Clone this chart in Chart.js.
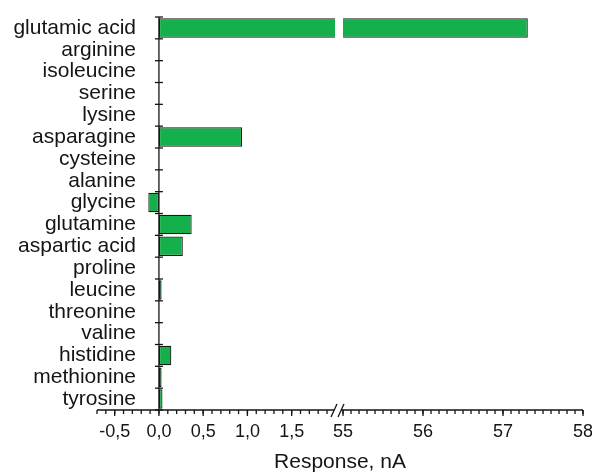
<!DOCTYPE html>
<html>
<head>
<meta charset="utf-8">
<script src="https://cdn.jsdelivr.net/npm/chart.js@4.4.1/dist/chart.umd.min.js"></script>
<style>
html,body{margin:0;padding:0;background:#ffffff;}
canvas{display:block;}
</style>
</head>
<body>
<canvas id="c" width="592" height="473"></canvas>
<script>
// ---- data ----
const categories = ['glutamic acid','arginine','isoleucine','serine','lysine','asparagine','cysteine','alanine','glycine','glutamine','aspartic acid','proline','leucine','threonine','valine','histidine','methionine','tyrosine'];
const responses = [57.31, 0, 0, 0, 0, 0.94, 0, 0, -0.12, 0.37, 0.27, 0, 0.03, 0, 0, 0.14, 0.03, 0.04];
const xTickValues = [-0.5, 0, 0.5, 1, 1.5, 55, 56, 57, 58];
const xTickLabels = ['-0,5','0,0','0,5','1,0','1,5','55','56','57','58'];
const lowSegment = [-0.7, 1.99];
const highSegment = [55, 58];
const minorStep = 0.1;
const axisTitle = 'Response, nA';

// ---- layout of the broken axis (fractions of the plot width) ----
const LOW_FRAC = 238 / 486;
const HIGH_START = 246 / 486;
const INK = '#151515';
const FONT = 'Liberation Sans, Arial, sans-serif';

class BrokenLinearScale extends Chart.LinearScale {
  determineDataLimits() { this.min = lowSegment[0]; this.max = highSegment[1]; }
  buildTicks() { return xTickValues.map(v => ({ value: v })); }
  getPixelForValue(v) {
    if (v === null || v === undefined || isNaN(v)) return NaN;
    const mid = (lowSegment[1] + highSegment[0]) / 2;
    let dec;
    if (v <= mid) dec = LOW_FRAC * (v - lowSegment[0]) / (lowSegment[1] - lowSegment[0]);
    else dec = HIGH_START + (1 - HIGH_START) * (v - highSegment[0]) / (highSegment[1] - highSegment[0]);
    return this.getPixelForDecimal(dec);
  }
  getValueForPixel(p) {
    const dec = this.getDecimalForPixel(p);
    if (dec <= (LOW_FRAC + HIGH_START) / 2) return lowSegment[0] + dec / LOW_FRAC * (lowSegment[1] - lowSegment[0]);
    return highSegment[0] + (dec - HIGH_START) / (1 - HIGH_START) * (highSegment[1] - highSegment[0]);
  }
}
BrokenLinearScale.id = 'brokenLinear';
BrokenLinearScale.defaults = Chart.LinearScale.defaults;
Chart.register(BrokenLinearScale);

// category scale whose labels may extend into the plot area (no label clipping)
class OpenCategoryScale extends Chart.CategoryScale {
  _computeLabelArea() { return undefined; }
}
OpenCategoryScale.id = 'openCategory';
OpenCategoryScale.defaults = Chart.CategoryScale.defaults;
Chart.register(OpenCategoryScale);

const brokenAxisPlugin = {
  id: 'brokenAxis',
  afterDatasetsDraw(chart) {
    const { ctx, chartArea, scales: { x } } = chart;
    const g0 = x.getPixelForValue(lowSegment[1]);
    const g1 = x.getPixelForValue(highSegment[0]);
    ctx.save();
    ctx.fillStyle = '#ffffff';
    ctx.fillRect(g0, chartArea.top - 2, g1 - g0, chartArea.bottom - chartArea.top);
    ctx.restore();
  },
  afterDraw(chart) {
    const { ctx, chartArea, scales: { x, y } } = chart;
    const top = chartArea.top, bottom = chartArea.bottom;
    ctx.save();
    ctx.strokeStyle = INK;
    ctx.lineWidth = 1.3;
    ctx.lineCap = 'butt';
    // vertical axis at value 0
    const x0 = x.getPixelForValue(0);
    ctx.beginPath();
    ctx.moveTo(x0, top);
    ctx.lineTo(x0, bottom);
    ctx.stroke();
    // category boundary ticks (crossing the axis)
    for (let i = 0; i <= categories.length; i++) {
      const py = y.getPixelForValue(i - 0.5);
      ctx.beginPath();
      ctx.moveTo(x0 - 4, py);
      ctx.lineTo(x0 + 4, py);
      ctx.stroke();
    }
    // horizontal axis in two pieces
    const gL = x.getPixelForValue(lowSegment[1]) - 1;
    const gR = x.getPixelForValue(highSegment[0]) - 2;
    ctx.beginPath();
    ctx.moveTo(chartArea.left, bottom);
    ctx.lineTo(gL, bottom);
    ctx.moveTo(gR, bottom);
    ctx.lineTo(chartArea.right, bottom);
    ctx.stroke();
    // break marks
    ctx.beginPath();
    ctx.moveTo(gL - 3, bottom + 7); ctx.lineTo(gL + 3, bottom - 6);
    ctx.moveTo(gR - 3, bottom + 7); ctx.lineTo(gR + 3, bottom - 6);
    ctx.stroke();
    // minor and major ticks
    const drawTick = (v, len) => {
      const px = x.getPixelForValue(v);
      ctx.beginPath();
      ctx.moveTo(px, bottom);
      ctx.lineTo(px, bottom + len);
      ctx.stroke();
    };
    const nLow = Math.round((lowSegment[1] - lowSegment[0]) / minorStep);
    for (let k = 0; k <= nLow; k++) {
      const v = lowSegment[0] + k * minorStep;
      if (v <= lowSegment[1] - minorStep * 0.5) drawTick(v, 4);
    }
    const nHigh = Math.round((highSegment[1] - highSegment[0]) / minorStep);
    for (let k = 0; k <= nHigh; k++) drawTick(highSegment[0] + k * minorStep, 4);
    xTickValues.forEach(v => drawTick(v, 6));
    ctx.restore();
  }
};

new Chart(document.getElementById('c'), {
  type: 'bar',
  data: {
    labels: categories,
    datasets: [{
      data: responses,
      backgroundColor: '#14b04b',
      borderColor: '#1a1a1a',
      borderWidth: 1.2,
      borderSkipped: false,
      categoryPercentage: 1,
      barPercentage: 0.89
    }]
  },
  options: {
    indexAxis: 'y',
    responsive: false,
    animation: false,
    devicePixelRatio: 1,
    layout: { padding: { top: 17, left: 0, right: 9, bottom: 0 } },
    plugins: { legend: { display: false }, tooltip: { enabled: false } },
    scales: {
      x: {
        type: 'brokenLinear',
        position: 'bottom',
        grid: { display: false, drawTicks: false },
        border: { display: false },
        ticks: {
          autoSkip: false, maxRotation: 0, minRotation: 0, padding: 11,
          color: INK, font: { family: FONT, size: 18 },
          callback: (v, i) => xTickLabels[i]
        },
        title: { display: true, text: axisTitle, color: INK, font: { family: FONT, size: 21 }, padding: { top: 0, bottom: -2 } },
        afterFit: s => { s.height = 63; s.paddingLeft = 0; s.paddingRight = 0; }
      },
      y: {
        type: 'openCategory',
        position: 'left',
        offset: true,
        grid: { display: false, drawTicks: false },
        border: { display: false },
        ticks: { padding: -39, color: INK, font: { family: FONT, size: 21 }, autoSkip: false },
        afterFit: s => { s.width = 97; s.paddingTop = 0; s.paddingBottom = 0; }
      }
    }
  },
  plugins: [brokenAxisPlugin]
});
</script>
</body>
</html>
